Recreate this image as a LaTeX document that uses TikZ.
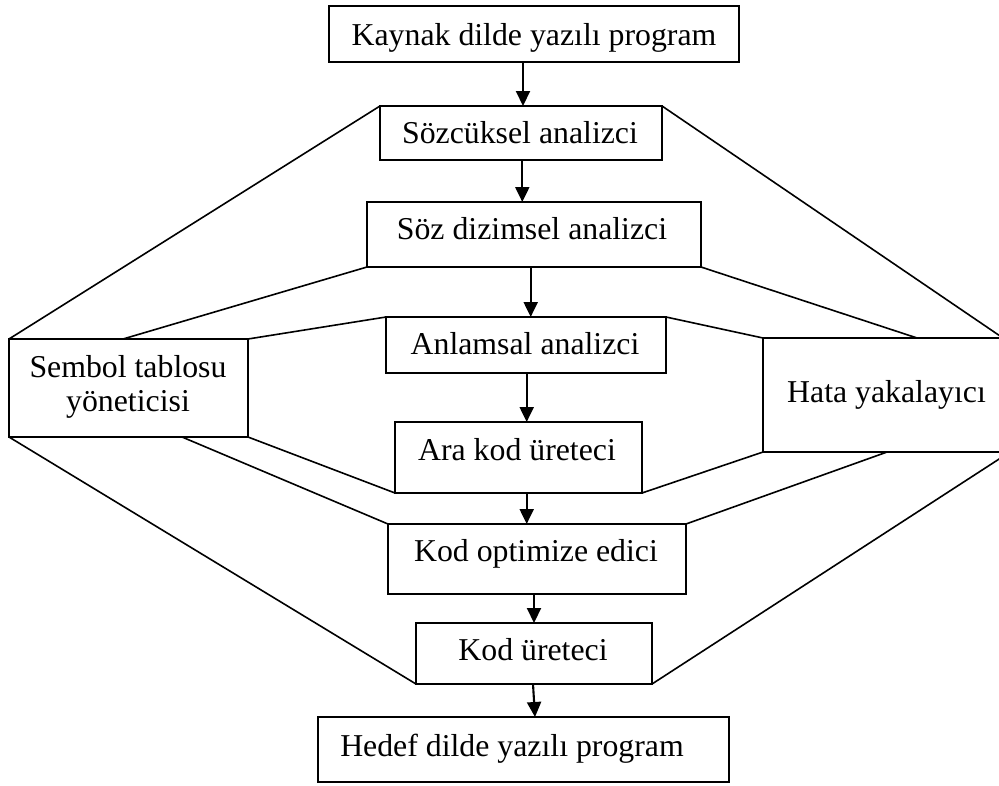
\documentclass[tikz,border=0pt]{standalone}
\usepackage{fontspec}
\setmainfont{Liberation Serif}
\usetikzlibrary{arrows.meta,calc}
\begin{document}
\begin{tikzpicture}[x=1pt,y=-1pt,
  box/.style={draw, line width=1.9pt, inner sep=0pt, outer sep=0pt},
  lbl/.style={anchor=base, inner sep=0pt, font=\fontsize{31.8}{34}\selectfont},
  conn/.style={line width=1.6pt},
  arr/.style={line width=2.1pt, -{Triangle[width=14pt,length=15pt]}}]
\useasboundingbox (0,0) rectangle (999,785);
\clip (0,0) rectangle (999,785);

% boxes
\node[box, minimum width=410pt, minimum height=56pt] (kaynak) at (534,34) {};
\node[box, minimum width=282pt, minimum height=54pt] (sozc) at (521,133) {};
\node[box, minimum width=334pt, minimum height=65pt] (sozdiz) at (534,234.5) {};
\node[box, minimum width=280pt, minimum height=56pt] (anlam) at (526,345) {};
\node[box, minimum width=239pt, minimum height=98pt] (sembol) at (128.5,388) {};
\node[box, minimum width=240pt, minimum height=114pt] (hata) at (883,395) {};
\node[box, minimum width=247pt, minimum height=71pt] (ara) at (518.5,457.5) {};
\node[box, minimum width=298pt, minimum height=70pt] (opt) at (537,559) {};
\node[box, minimum width=236pt, minimum height=61pt] (kodu) at (534,653.5) {};
\node[box, minimum width=411pt, minimum height=65pt] (hedef) at (523.5,749.5) {};

% texts
\node[lbl] (kaynakT) at (534,45) {Kaynak dilde yazılı program};
\node[lbl] (sozcT) at (520,143.3) {Sözcüksel analizci};
\node[lbl] (sozdizT) at (532,239.7) {Söz dizimsel analizci};
\node[lbl] (anlamT) at (525,354.7) {Anlamsal analizci};
\node[lbl] (sembolT1) at (128,377.7) {Sembol tablosu};
\node[lbl] (sembolT2) at (128,411.7) {yöneticisi};
\node[lbl] (hataT) at (886.5,402.7) {Hata yakalayıcı};
\node[lbl] (araT) at (517,460) {Ara kod üreteci};
\node[lbl] (optT) at (536,561.7) {Kod optimize edici};
\node[lbl] (koduT) at (533,660) {Kod üreteci};
\node[lbl] (hedefT) at (512,756.7) {Hedef dilde yazılı program};

% arrows
\draw[arr] (kaynak.south -| 523,0) -- (sozc.north -| 523,0);
\draw[arr] (sozc.south -| 522.3,0) -- (sozdiz.north -| 522.3,0);
\draw[arr] (sozdiz.south -| 530.7,0) -- (anlam.north -| 530.7,0);
\draw[arr] (anlam.south -| 526.7,0) -- (ara.north -| 526.7,0);
\draw[arr] (ara.south -| 526.7,0) -- (opt.north -| 526.7,0);
\draw[arr] (opt.south -| 534,0) -- (kodu.north -| 534,0);
\draw[arr] (kodu.south -| 533,0) -- (hedef.north -| 535,0);

% left connectors
\draw[conn] (sembol.north west) -- (sozc.north west);
\draw[conn] ($(sembol.north west)!0.477!(sembol.north east)$) -- (sozdiz.south west);
\draw[conn] (sembol.north east) -- (anlam.north west);
\draw[conn] (sembol.south west) -- (kodu.south west);
\draw[conn] ($(sembol.south west)!0.724!(sembol.south east)$) -- (opt.north west);
\draw[conn] (sembol.south east) -- (ara.south west);

% right connectors
\coordinate (hbot) at (1003,456.5);
\draw[conn] (sozc.north east) -- (hata.north east);
\draw[conn] (sozdiz.south east) -- ($(hata.north west)!0.642!(hata.north east)$);
\draw[conn] (anlam.north east) -- (hata.north west);
\draw[conn] (hata.south west) -- (ara.south east);
\draw[conn] ($(hata.south west)!0.517!(hata.south east)$) -- (opt.north east);
\draw[conn] (hbot) -- (kodu.south east);
\end{tikzpicture}
\end{document}
